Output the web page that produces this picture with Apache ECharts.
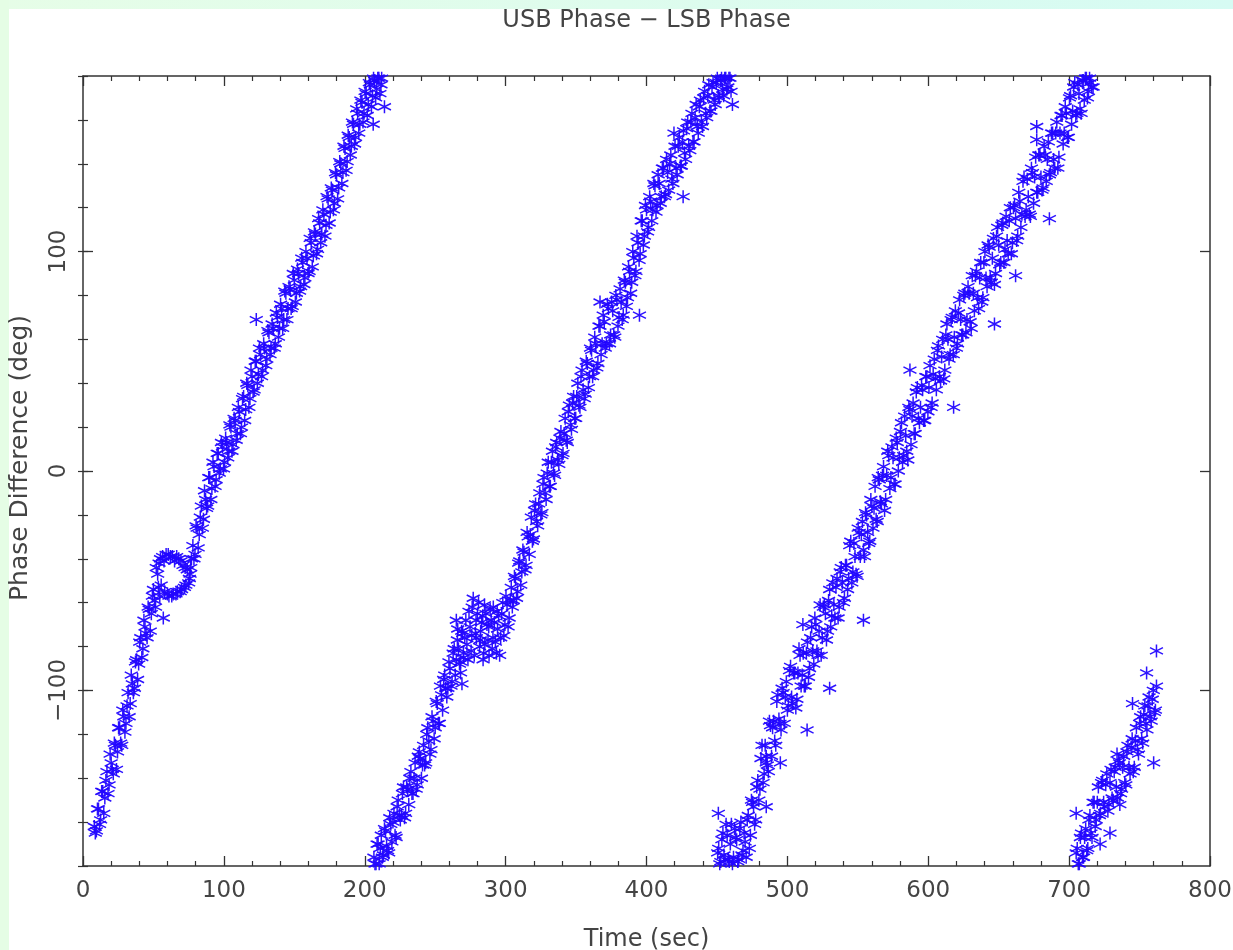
<!DOCTYPE html>
<html>
<head>
<meta charset="utf-8">
<title>USB Phase − LSB Phase</title>
<script src="https://cdn.jsdelivr.net/npm/echarts@6/dist/echarts.min.js"></script>
<style>
  html, body { margin: 0; padding: 0; background: #ffffff; }
  #chart { width: 1233px; height: 950px; }
</style>
</head>
<body>
<div id="chart"></div>
<script>
// Phase difference samples [time (sec), phase (deg)], one array per 360° sweep.
const sweep1 = [
  [8,-162],[9.5,-164],[11,-154],[12.5,-159],[14,-146],[15.5,-149],[17,-137],[18.5,-143],[20,-133],[21.5,-138],
  [23,-125],[24.5,-128],[26,-117],[27.5,-125],[29,-112],[30.5,-115],[32,-101],[33.5,-106],[35,-97],[36.5,-99],
  [38,-86],[39.5,-88],[41,-76],[42.5,-81],[44,-71],[45.5,-76],[47,-63],[48.5,-65],[50,-54],[51.5,-62],
  [53,-47],[54,-42],[55.5,-52],[56.5,-39],[58,-55],[59,-38],[61,-57],[62,-39],[64,-56],[65,-41],
  [67,-55],[68,-40],[70,-54],[71,-43],[73,-52],[74,-45],[75.5,-49],[76.5,-44],
  [78,-34],[79.5,-38],[81,-26],[82.5,-29],[84,-16],[85.5,-22],[87,-13],[88.5,-16],[90,-3],[91.5,-8],
  [93,2],[94.5,-4],[96,8],[97.5,1],[99,11],[100.5,4],[102,13],[103.5,9],[105,20],[106.5,12],
  [108,23],[109.5,17],[111,27],[112.5,20],[114,34],[115.5,28],[117,39],[118.5,33],[120,43],[121.5,37],
  [123,50],[124.5,44],[126,53],[127.5,46],[129,56],[130.5,51],[132,63],[133.5,56],[135,65],[136.5,58],
  [138,70],[139.5,65],[141,74],[142.5,69],[144,81],[145.5,74],[147,83],[148.5,75],[150,87],[151.5,81],
  [153,90],[154.5,84],[156,95],[157.5,88],[159,97],[160.5,91],[162,104],[163.5,98],[165,108],[166.5,101],
  [168,113],[169.5,108],[171,117],[172.5,112],[174,124],[175.5,118],[177,128],[178.5,122],[180,135],[181.5,129],
  [183,140],[184.5,136],[186,147],[187.5,141],[189,152],[190.5,148],[192,158],[193.5,152],[195,163],[196.5,158],
  [198,168],[199.5,163],[201,172],[202.5,167],[204,176],[205.5,171],[207,178],[208.5,174],[210,179],[211.5,176],
  [8.75,-165],[10.25,-154],[11.75,-161],[13.25,-146],[14.75,-156],[16.25,-141],[17.75,-147],[19.25,-129],[20.75,-136],[22.25,-124],
  [23.75,-136],[25.25,-117],[26.75,-124],[28.25,-109],[29.75,-119],[31.25,-107],[32.75,-112],[34.25,-93],[35.75,-101],[37.25,-87],
  [38.75,-95],[40.25,-78],[41.75,-85],[43.25,-68],[44.75,-74],[46.25,-62],[47.75,-73],[49.25,-57],[50.75,-59],
  [52,-44],[53.5,-53],[55,-40],[57.5,-41],[60,-56],[60.5,-38],[63,-57],[63.5,-39],[66,-56],[66.5,-39],
  [69,-55],[69.5,-41],[72,-53],[72.5,-44],[75,-51],[76,-47],[77,-40],[54.5,-57],
  [78.75,-40],[80.25,-25],[81.75,-35],[83.25,-21],[84.75,-26],[86.25,-9],[87.75,-17],[89.25,-3],[90.75,-13],[92.25,4],
  [93.75,-7],[95.25,8],[96.75,-1],[98.25,13],[99.75,1],[101.25,15],[102.75,6],[104.25,21],[105.75,9],[107.25,24],
  [108.75,14],[110.25,29],[111.75,17],[113.25,33],[114.75,23],[116.25,40],[117.75,29],[119.25,46],[120.75,36],[122.25,50],
  [123.75,40],[125.25,56],[126.75,43],[128.25,58],[129.75,48],[131.25,64],[132.75,53],[134.25,67],[135.75,56],[137.25,72],
  [138.75,61],[140.25,76],[141.75,65],[143.25,82],[144.75,69],[146.25,84],[147.75,74],[149.25,90],[150.75,77],[152.25,92],
  [153.75,82],[155.25,97],[156.75,85],[158.25,100],[159.75,90],[161.25,106],[162.75,93],[164.25,109],[165.75,99],[167.25,115],
  [168.75,104],[170.25,119],[171.75,107],[173.25,125],[174.75,113],[176.25,129],[177.75,119],[179.25,136],[180.75,124],[182.25,141],
  [183.75,131],[185.25,148],[186.75,137],[188.25,153],[189.75,144],[191.25,159],[192.75,149],[194.25,165],[195.75,154],[197.25,169],
  [198.75,159],[200.25,173],[201.75,162],[203.25,177],[204.75,166],[206.25,179],[207.75,170],[209.25,179],[210.75,172],[212,179],
  [123,69],[57,-67],[214,166],[206,158]
];

const sweep2 = [
  [206.5,-176],[208,-179],[209.5,-170],[211,-172],[212.5,-176],[214,-163],[215.5,-171],[217,-174],[218.5,-161],[220,-160],
  [221.5,-166],[223,-153],[224.5,-157],[226,-157],[227.5,-144],[229,-156],[230.5,-145],[232,-140],[233.5,-147],[235,-140],
  [236.5,-145],[238,-130],[239.5,-131],[241,-134],[242.5,-134],[244,-120],[245.5,-123],[247,-127],[248.5,-114],[250,-117],
  [251.5,-106],[253,-115],[254.5,-102],[256,-95],[257.5,-99],[259,-99],[260.5,-90],[262,-96],[263.5,-81],[265,-86],
  [266.5,-81],[268,-87],[269.5,-74],[271,-76],[272.5,-79],[274,-64],[275.5,-82],[277,-58],[278.5,-74],[280,-65],
  [281.5,-80],[283,-69],[284.5,-83],[286,-65],[287.5,-77],[289,-63],[290.5,-81],[292,-69],[293.5,-83],[295,-66],
  [296.5,-76],[298,-60],[299.5,-70],[301,-61],[302.5,-67],
  [276,-75],[279,-68],[282,-77],[285,-61],[288,-71],[291,-76],[294,-64],[270,-83],[268,-92],[284,-86],[266,-72],[269,-97],[265,-68],
  [304,-53],[305.5,-59],[307,-49],[308.5,-55],[310,-41],[311.5,-46],[313,-37],[314.5,-43],[316,-30],[317.5,-29],
  [319,-32],[320.5,-18],[322,-23],[323.5,-15],[325,-20],[326.5,-6],[328,-10],[329.5,-1],[331,-7],[332.5,4],
  [334,-1],[335.5,11],[337,5],[338.5,15],[340,7],[341.5,17],[343,14],[344.5,27],[346,21],[347.5,31],
  [349,24],[350.5,34],[352,30],[353.5,43],[355,37],[356.5,35],[358,49],[359.5,43],[361,55],[362.5,46],
  [364,58],[365.5,49],[367,66],[368.5,58],[370,68],[371.5,58],[373,74],[374.5,62],[376,73],[377.5,61],
  [379,78],[380.5,70],[382,77],[383.5,71],[385,86],[386.5,79],[388,91],[389.5,86],[391,97],[392.5,91],
  [394,104],[395.5,99],[397,114],[398.5,107],[400,119],[401.5,111],[403,123],[404.5,119],[406,130],[407.5,121],
  [409,131],[410.5,125],[412,138],[413.5,126],[415,136],[416.5,140],[418,133],[419.5,154],[421,138],[422.5,148],
  [424,139],[425.5,150],[427,145],[428.5,156],[430,148],[431.5,159],[433,150],[434.5,161],[436,157],[437.5,166],
  [439,159],[440.5,170],[442,163],[443.5,171],[445,164],[446.5,175],[448,169],[449.5,177],[451,171],[452.5,178],
  [454,174],[455.5,179],[457,174],[458.5,179],[460,173],
  [207.25,-179],[208.75,-170],[210.25,-179],[211.75,-166],[213.25,-175],[214.75,-164],[216.25,-173],[217.75,-158],[219.25,-169],[220.75,-156],
  [222.25,-167],[223.75,-150],[225.25,-159],[226.75,-147],[228.25,-158],[229.75,-144],[231.25,-152],[232.75,-137],[234.25,-147],[235.75,-133],
  [237.25,-143],[238.75,-128],[240.25,-140],[241.75,-125],[243.25,-133],[244.75,-117],[246.25,-129],[247.75,-112],[249.25,-122],[250.75,-105],
  [252.25,-115],[253.75,-98],[255.25,-109],[256.75,-93],[258.25,-103],[259.75,-87],[261.25,-98],[262.75,-83],[264.25,-93],[265.75,-77],
  [267.25,-88],[268.75,-73],[270.25,-85],
  [271.75,-68],[273.25,-86],[274.75,-71],[276.25,-62],[277.75,-84],[279.25,-76],[280.75,-60],[282.25,-73],[283.75,-66],[285.25,-79],
  [286.75,-70],[288.25,-84],[289.75,-68],[291.25,-62],[292.75,-78],[294.25,-72],[295.75,-84],[297.25,-65],[298.75,-75],[300.25,-57],
  [301.75,-71],[303.25,-59],
  [304.75,-62],[306.25,-48],[307.75,-58],[309.25,-42],[310.75,-52],[312.25,-36],[313.75,-45],[315.25,-28],[316.75,-38],[318.25,-21],
  [319.75,-31],[321.25,-15],[322.75,-25],[324.25,-10],[325.75,-19],[327.25,-3],[328.75,-13],[330.25,4],[331.75,-7],[333.25,9],
  [334.75,-2],[336.25,13],[337.75,3],[339.25,18],[340.75,8],[342.25,24],[343.75,13],[345.25,30],[346.75,19],[348.25,34],
  [349.75,24],[351.25,40],[352.75,29],[354.25,46],[355.75,33],[357.25,50],[358.75,38],[360.25,56],[361.75,43],[363.25,61],
  [364.75,47],[366.25,66],[367.75,53],[369.25,71],[370.75,56],[372.25,76],[373.75,58],[375.25,77],[376.75,62],[378.25,80],
  [379.75,66],[381.25,83],[382.75,69],[384.25,87],[385.75,75],[387.25,93],[388.75,81],[390.25,100],[391.75,89],[393.25,107],
  [394.75,96],[396.25,114],[397.75,103],[399.25,121],[400.75,109],[402.25,125],[403.75,114],[405.25,131],[406.75,118],[408.25,135],
  [409.75,122],[411.25,138],[412.75,125],[414.25,142],[415.75,128],[417.25,144],[418.75,131],[420.25,148],[421.75,135],[423.25,152],
  [424.75,139],[426.25,155],[427.75,142],[429.25,159],[430.75,146],[432.25,163],[433.75,150],[435.25,167],[436.75,154],[438.25,169],
  [439.75,157],[441.25,173],[442.75,161],[444.25,176],[445.75,164],[447.25,177],[448.75,167],[450.25,179],[451.75,170],[453.25,179],
  [454.75,171],[456.25,179],[457.75,175],[459.25,179],
  [461,167],[367,77],[395,71],[426,125]
];

const sweep3 = [
  [450.5,-174],[452,-179],[453.5,-168],[455,-175],[456.5,-161],[458,-177],[459.5,-170],[461,-179],[462.5,-163],[464,-168],
  [465.5,-177],[467,-160],[468.5,-173],[470,-169],[471.5,-159],[473,-172],[474.5,-150],[476,-153],[477.5,-159],[479,-141],
  [480.5,-145],[482,-125],[483.5,-138],[485,-130],[486.5,-137],[488,-116],[489.5,-117],[491,-123],[492.5,-105],[494,-113],
  [495.5,-118],[497,-101],[498.5,-103],[500,-109],[501.5,-91],[503,-103],[504.5,-92],[506,-108],[507.5,-92],[509,-84],
  [510.5,-93],[512,-98],[513.5,-83],[515,-94],[516.5,-76],[518,-82],[519.5,-67],[521,-82],[522.5,-73],[524,-84],
  [525.5,-62],[527,-65],[528.5,-73],[530,-54],[531.5,-66],[533,-61],[534.5,-53],[536,-67],[537.5,-46],[539,-51],
  [540.5,-58],[542,-43],[543.5,-49],[545,-32],[546.5,-46],[548,-39],[549.5,-48],[551,-28],[552.5,-29],[554,-36],
  [555.5,-19],[557,-28],[558.5,-32],[560,-16],[561.5,-17],[563,-22],[564.5,-3],[566,-14],[567.5,-2],[569,-18],
  [570.5,-2],[572,7],[573.5,-3],[575,6],[576.5,-6],[578,13],[579.5,6],[581,22],[582.5,7],[584,16],
  [585.5,5],[587,28],[588.5,25],[590,17],[591.5,36],[593,24],[594.5,29],[596,37],[597.5,23],[599,43],
  [600.5,38],[602,29],[603.5,44],[605,42],[606.5,55],[608,43],[609.5,52],[611,42],[612.5,62],[614,60],
  [615.5,53],[617,70],[618.5,61],[620,56],[621.5,72],[623,69],[624.5,62],[626,81],[627.5,69],[629,81],
  [630.5,65],[632,81],[633.5,89],[635,79],[636.5,88],[638,77],[639.5,95],[641,88],[642.5,103],[644,88],
  [645.5,97],[647,85],[648.5,107],[650,103],[651.5,95],[653,113],[654.5,101],[656,105],[657.5,114],[659,99],
  [660.5,120],[662,115],[663.5,107],[665,123],[666.5,117],[668,134],[669.5,119],[671,125],[672.5,116],[674,136],
  [675.5,134],[677,127],[678.5,144],[680,134],[681.5,129],[683,144],[684.5,142],[686,135],[687.5,154],[689,142],
  [690.5,154],[692,138],[693.5,154],[695,162],[696.5,154],[698,163],[699.5,152],[701,171],[702.5,164],[704,177],
  [705.5,163],[707,172],[708.5,163],[710,178],[711.5,179],[713,170],[714.5,179],[716,175],
  [451.25,-172],[452.75,-178],[454.25,-165],[455.75,-177],[457.25,-166],[458.75,-178],[460.25,-161],[461.75,-176],[463.25,-167],[464.75,-178],
  [466.25,-163],[467.75,-175],[469.25,-165],[470.75,-176],[472.25,-157],[473.75,-166],[475.25,-151],[476.75,-161],[478.25,-144],[479.75,-150],
  [481.25,-131],[482.75,-142],[484.25,-125],[485.75,-134],[487.25,-114],[488.75,-130],[490.25,-114],[491.75,-125],[493.25,-102],[494.75,-115],
  [496.25,-99],[497.75,-115],[499.25,-96],[500.75,-107],[502.25,-89],[503.75,-106],[505.25,-92],[506.75,-104],[508.25,-81],[509.75,-98],
  [511.25,-83],[512.75,-98],[514.25,-78],[515.75,-90],[517.25,-71],[518.75,-88],[520.25,-70],[521.75,-84],[523.25,-61],[524.75,-76],
  [526.25,-61],[527.75,-77],[529.25,-59],[530.75,-71],[532.25,-51],[533.75,-67],[535.25,-49],[536.75,-62],[538.25,-44],[539.75,-60],
  [541.25,-43],[542.75,-54],[544.25,-34],[545.75,-51],[547.25,-33],[548.75,-47],[550.25,-26],[551.75,-39],[553.25,-23],[554.75,-39],
  [556.25,-20],[557.75,-33],[559.25,-13],[560.75,-26],[562.25,-7],[563.75,-23],[565.25,-4],[566.75,-15],[568.25,2],[569.75,-13],
  [571.25,9],[572.75,-8],[574.25,11],[575.75,-6],[577.25,15],[578.75,0],[580.25,18],[581.75,4],[583.25,25],[584.75,9],
  [586.25,29],[587.75,12],[589.25,31],[590.75,17],[592.25,38],[593.75,22],[595.25,39],[596.75,23],[598.25,43],[599.75,27],
  [601.25,48],[602.75,31],[604.25,51],[605.75,37],[607.25,57],[608.75,41],[610.25,60],[611.75,46],[613.25,67],[614.75,51],
  [616.25,69],[617.75,53],[619.25,73],[620.75,58],[622.25,78],[623.75,62],[625.25,80],[626.75,63],[628.25,84],[629.75,68],
  [631.25,89],[632.75,73],[634.25,91],[635.75,74],[637.25,95],[638.75,79],[640.25,100],[641.75,84],[643.25,102],[644.75,86],
  [646.25,106],[647.75,90],[649.25,111],[650.75,94],[652.25,112],[653.75,95],[655.25,116],[656.75,99],[658.25,120],[659.75,104],
  [661.25,121],[662.75,105],[664.25,127],[665.75,111],[667.25,132],[668.75,116],[670.25,133],[671.75,117],[673.25,138],[674.75,122],
  [676.25,143],[677.75,127],[679.25,144],[680.75,128],[682.25,148],[683.75,132],[685.25,150],[686.75,136],[688.25,154],[689.75,138],
  [691.25,159],[692.75,143],[694.25,162],[695.75,149],[697.25,166],[698.75,152],[700.25,170],[701.75,158],[703.25,175],[704.75,162],
  [706.25,176],[707.75,165],[709.25,178],[710.75,169],[712.25,179],[713.75,173],[715.25,177],
  [451,-156],[485,-153],[495,-133],[514,-118],[530,-99],[511,-70],[554,-68],[587,46],[618,29],[647,67],
  [662,89],[686,115],[677,151],[677,157],[717,175],[485,-133]
];

const sweep4 = [
  [705,-174],[706.5,-179],[708,-167],[709.5,-176],[711,-167],[712.5,-173],[714,-159],[715.5,-165],[717,-151],[718.5,-162],
  [720,-151],[721.5,-157],[723,-142],[724.5,-151],[726,-143],[727.5,-155],[729,-142],[730.5,-149],[732,-137],[733.5,-144],
  [735,-132],[736.5,-147],[738,-135],[739.5,-142],[741,-128],[742.5,-135],[744,-126],[745.5,-137],[747,-123],[748.5,-127],
  [750,-115],[751.5,-122],[753,-111],[754.5,-115],[756,-107],[757.5,-112],[759,-104],[760.5,-110],[762,-98],
  [705.75,-172],[707.25,-179],[708.75,-165],[710.25,-176],[711.75,-163],[713.25,-172],[714.75,-157],[716.25,-167],[717.75,-151],[719.25,-159],
  [720.75,-144],[722.25,-156],[723.75,-141],[725.25,-153],[726.75,-138],[728.25,-152],[729.75,-136],[731.25,-150],[732.75,-135],[734.25,-149],
  [735.75,-133],[737.25,-145],[738.75,-130],[740.25,-143],[741.75,-125],[743.25,-138],[744.75,-122],[746.25,-135],[747.75,-117],[749.25,-129],
  [750.75,-112],[752.25,-124],[753.75,-107],[755.25,-118],[756.75,-103],[758.25,-114],[759.75,-100],[761.25,-109],
  [705,-156],[729,-165],[734,-129],[736,-152],[760,-133],[755,-92],[762,-82],[745,-106],[722,-170]
];

// Axis ticks and labels
const xTicks = [0, 100, 200, 300, 400, 500, 600, 700, 800];
const yLabelTicks = [-100, 0, 100];

const textColor = '#444444';
const lineColor = '#333333';
const markColor = '#2206ff';
const fontFamily = '"DejaVu Sans", Verdana, sans-serif';

// Plot area edges in pixels
const plotLeft = 83, plotRight = 23, plotTop = 76, plotBottom = 84;
const plotCenterX = plotLeft + (1233 - plotLeft - plotRight) / 2;

// Six-armed asterisk marker (stroked, not filled)
const asterisk = 'path://M5,0 L5,10 M0.67,2.5 L9.33,7.5 M0.67,7.5 L9.33,2.5';

const minus = v => (v < 0 ? '\u2212' + Math.abs(v) : String(v));

const chart = echarts.init(document.getElementById('chart'), null, { renderer: 'canvas' });

const xBase = {
  type: 'value', min: xTicks[0], max: xTicks[xTicks.length - 1], interval: 100,
  axisLine: { show: true, onZero: false, lineStyle: { color: lineColor, width: 1.5 } },
  axisTick: { show: true, inside: true, length: 10, lineStyle: { color: lineColor, width: 1.3 } },
  minorTick: { show: true, splitNumber: 5, length: 5, lineStyle: { color: lineColor, width: 1.2 } },
  splitLine: { show: false }, minorSplitLine: { show: false }
};

const yMajor = {
  type: 'value', min: -180, max: 180, interval: 20,
  axisLine: { show: true, onZero: false, lineStyle: { color: lineColor, width: 1.5 } },
  axisTick: { show: true, inside: true, length: 10, customValues: yLabelTicks, lineStyle: { color: lineColor, width: 1.3 } },
  splitLine: { show: false }
};

const yMinor = {
  type: 'value', min: -180, max: 180, interval: 20,
  axisLine: { show: false },
  axisTick: { show: true, inside: true, length: 5, lineStyle: { color: lineColor, width: 1.2 } },
  axisLabel: { show: false },
  splitLine: { show: false }
};

const scatter = (name, data) => ({
  name, type: 'scatter', data,
  xAxisIndex: 0, yAxisIndex: 0,
  symbol: asterisk, symbolSize: 13,
  itemStyle: { color: 'rgba(0,0,0,0)', borderColor: markColor, borderWidth: 1.5, opacity: 0.95 },
  emphasis: { disabled: true },
  z: 5
});

chart.setOption({
  animation: false,
  backgroundColor: '#ffffff',
  graphic: [
    {
      type: 'rect', left: 0, top: 0, z: -10, silent: true,
      shape: { width: 1233, height: 9 },
      style: {
        fill: new echarts.graphic.LinearGradient(0, 0, 1, 0, [
          { offset: 0, color: '#e6fde7' },
          { offset: 1, color: '#d6fbf3' }
        ])
      }
    },
    {
      type: 'rect', left: 0, top: 0, z: -10, silent: true,
      shape: { width: 9, height: 950 },
      style: { fill: '#e5fde5' }
    },
    {
      // chart title, centred over the plot area
      type: 'text', x: plotCenterX, y: 21, z: 10, silent: true,
      style: {
        text: 'USB Phase \u2212 LSB Phase',
        fill: textColor, font: '24px ' + fontFamily,
        align: 'center', verticalAlign: 'middle'
      }
    }
  ],
  grid: { left: plotLeft, right: plotRight, top: plotTop, bottom: plotBottom, containLabel: false, outerBoundsMode: 'none' },
  xAxis: [
    Object.assign({}, xBase, {
      position: 'bottom',
      name: 'Time (sec)', nameLocation: 'middle', nameGap: 62,
      nameTextStyle: { color: textColor, fontSize: 24, fontFamily },
      axisLabel: { show: true, margin: 14, color: textColor, fontSize: 23, fontFamily, formatter: minus }
    }),
    Object.assign({}, xBase, { position: 'top', axisLabel: { show: false } })
  ],
  yAxis: [
    Object.assign({}, yMajor, {
      position: 'left',
      name: 'Phase Difference (deg)', nameLocation: 'middle', nameGap: 50,
      nameTextStyle: { color: textColor, fontSize: 25, fontFamily, padding: [0, 0, 0, 26] },
      axisLabel: {
        show: true, customValues: yLabelTicks, rotate: 90, margin: 12,
        color: textColor, fontSize: 23, fontFamily, formatter: minus
      }
    }),
    Object.assign({}, yMinor, { position: 'left' }),
    Object.assign({}, yMajor, { position: 'right', axisLabel: { show: false } }),
    Object.assign({}, yMinor, { position: 'right' })
  ],
  series: [
    scatter('sweep 1', sweep1),
    scatter('sweep 2', sweep2),
    scatter('sweep 3', sweep3),
    scatter('sweep 4', sweep4)
  ]
});
</script>
</body>
</html>
